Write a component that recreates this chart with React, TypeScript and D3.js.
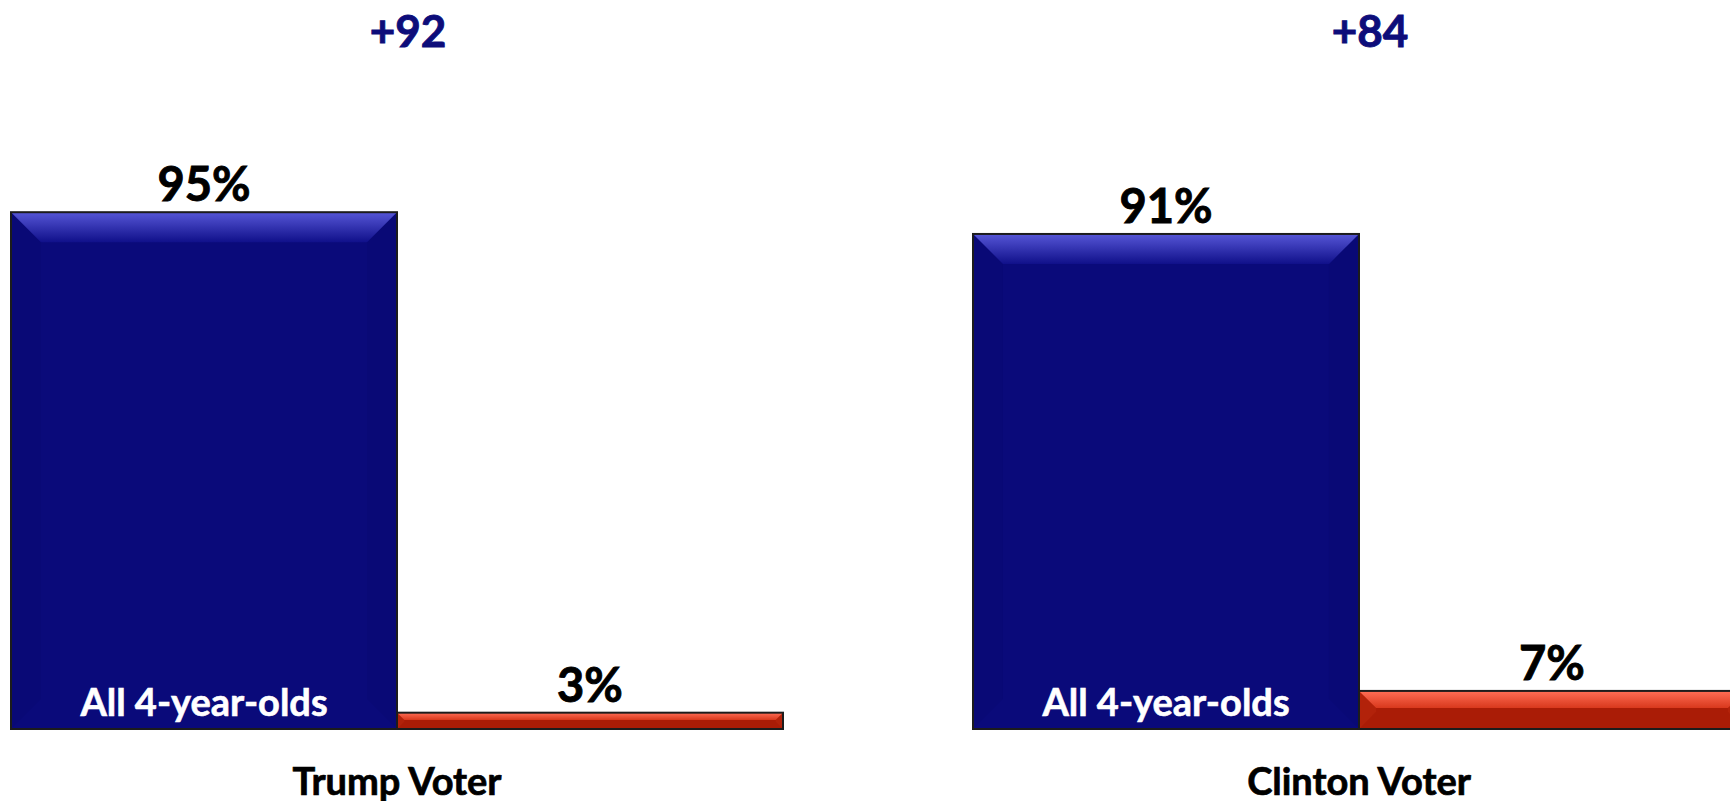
import React from "react";
import * as d3 from "d3";

const categories = ["Trump Voter", "Clinton Voter"];
const seriesKeys = ["yes", "no"];
const yesValues = [95, 91];
const noValues = [3, 7];
const marginLabels = ["+92", "+84"];
const innerLabel = "All 4-year-olds";

const W = 1730;
const H = 801;
const FONT = "Lato, 'Open Sans', sans-serif";

const palette: Record<string, { main: string; side: string; top0: string; top1: string }> = {
  yes: { main: "#0A0A7A", side: "#090976", top0: "#5656D6", top1: "#10108A" },
  no: { main: "#AA1C06", side: "#B2220A", top0: "#FF6E56", top1: "#D8381C" },
};

export default function App() {
  const x0 = d3
    .scaleBand<string>()
    .domain(categories)
    .range([11, 1745])
    .paddingInner(0.1975)
    .paddingOuter(0);
  const x1 = d3.scaleBand<string>().domain(seriesKeys).range([0, x0.bandwidth()]).padding(0);
  const y = d3.scaleLinear().domain([0, 100]).range([729, 185]);

  const bars: { key: string; cat: string; v: number; i: number }[] = [];
  categories.forEach((c, i) => {
    bars.push({ key: "yes", cat: c, v: yesValues[i], i });
    bars.push({ key: "no", cat: c, v: noValues[i], i });
  });

  return (
    <svg
      width={W}
      height={H}
      style={{ position: "absolute", left: 0, top: 0, display: "block", background: "#fff" }}
    >
      <defs>
        {seriesKeys.map((k) => (
          <linearGradient key={k} id={`top-${k}`} x1="0" y1="0" x2="0" y2="1">
            <stop offset="0%" stopColor={palette[k].top0} />
            <stop offset="100%" stopColor={palette[k].top1} />
          </linearGradient>
        ))}
      </defs>
      {bars.map((b) => {
        const xa = (x0(b.cat) ?? 0) + (x1(b.key) ?? 0);
        const xb = xa + x1.bandwidth();
        const ya = y(b.v);
        const yb = y(0);
        const h = yb - ya;
        const bv = Math.min(30, h * 0.45);
        const p = palette[b.key];
        return (
          <g key={b.key + b.cat}>
            <rect x={xa} y={ya} width={xb - xa} height={h} fill={p.main} />
            <polygon
              points={`${xa},${ya} ${xa + bv},${ya + bv} ${xa + bv},${yb - bv} ${xa},${yb}`}
              fill={p.side}
            />
            <polygon
              points={`${xb},${ya} ${xb - bv},${ya + bv} ${xb - bv},${yb - bv} ${xb},${yb}`}
              fill={p.side}
            />
            <polygon
              points={`${xa},${ya} ${xb},${ya} ${xb - bv},${ya + bv} ${xa + bv},${ya + bv}`}
              fill={`url(#top-${b.key})`}
            />
            <rect
              x={xa}
              y={ya}
              width={xb - xa}
              height={h}
              fill="none"
              stroke="#1c1c1c"
              strokeWidth={2}
            />
            <text
              x={(xa + xb) / 2}
              y={ya - 11}
              textAnchor="middle"
              fontFamily={FONT}
              fontWeight={700}
              fontSize={47}
              fill="#000"
              stroke="#000"
              strokeWidth={0.9}
            >
              {`${b.v}%`}
            </text>
          </g>
        );
      })}
      {categories.map((c, i) => {
        const xa = (x0(c) ?? 0) + (x1("yes") ?? 0);
        const cx = (x0(c) ?? 0) + x0.bandwidth() / 2;
        return (
          <g key={c}>
            <text
              x={xa + x1.bandwidth() / 2}
              y={716}
              textAnchor="middle"
              fontFamily={FONT}
              fontWeight={700}
              fontSize={38}
              fill="#fff"
              stroke="#fff"
              strokeWidth={0.6}
            >
              {innerLabel}
            </text>
            <text
              x={cx}
              y={795}
              textAnchor="middle"
              fontFamily={FONT}
              fontWeight={700}
              fontSize={38}
              fill="#000"
              stroke="#000"
              strokeWidth={0.7}
            >
              {c}
            </text>
            <text
              x={cx + 11}
              y={47}
              textAnchor="middle"
              fontFamily={FONT}
              fontWeight={700}
              fontSize={44}
              fill="#0D0D7A"
              stroke="#0D0D7A"
              strokeWidth={0.9}
            >
              {marginLabels[i]}
            </text>
          </g>
        );
      })}
    </svg>
  );
}
